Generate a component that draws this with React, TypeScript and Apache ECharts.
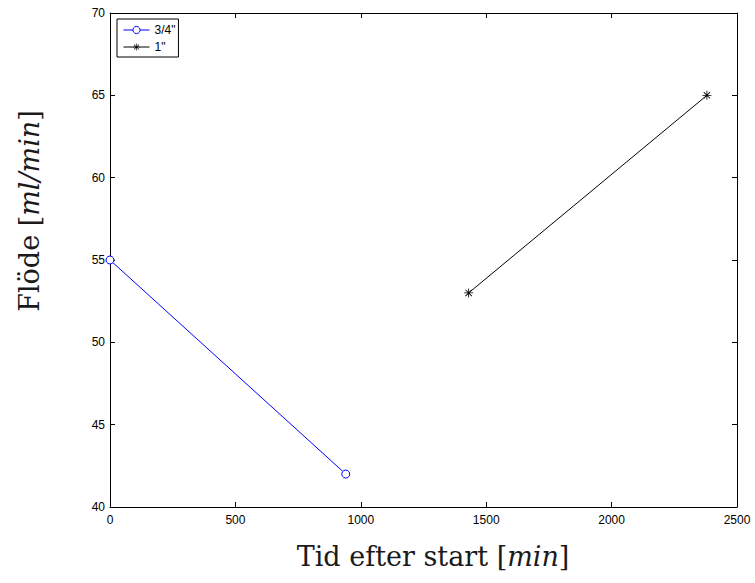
import React, { useEffect, useRef } from "react";
import * as echarts from "echarts";

const seriesNames = ['3/4"', '1"'];
const xSmall = [0, 940];
const ySmall = [55, 42];
const xLarge = [1430, 2380];
const yLarge = [53, 65];

const asterisk =
  "path://M-0.09,-1 L0.09,-1 L0.09,1 L-0.09,1 Z M-1,-0.09 L1,-0.09 L1,0.09 L-1,0.09 Z " +
  "M-0.77,-0.64 L-0.64,-0.77 L0.77,0.64 L0.64,0.77 Z M0.64,-0.77 L0.77,-0.64 L-0.64,0.77 L-0.77,0.64 Z";

export default function App() {
  const ref = useRef<HTMLDivElement>(null);
  useEffect(() => {
    if (!ref.current) return;
    const chart = echarts.init(ref.current, undefined, { renderer: "svg" });
    const sans = "'Liberation Sans', Arial, sans-serif";
    const serif = "'DejaVu Serif', 'Liberation Serif', serif";
    const axisCommon = {
      type: "value" as const,
      axisLine: { show: true, onZero: false, lineStyle: { color: "#000", width: 1 } },
      axisTick: { show: true, inside: true, length: 5, lineStyle: { color: "#000" } },
      splitLine: { show: false },
    };
    const rich = {
      n: { fontFamily: serif, fontSize: 27, fill: "#1a1a1a" },
      i: { fontFamily: serif, fontSize: 27, fontStyle: "italic", fill: "#1a1a1a" },
    };
    chart.setOption({
      animation: false,
      backgroundColor: "#fff",
      grid: { left: 110, right: 18, top: 13, bottom: 76, containLabel: false },
      legend: {
        left: 117,
        top: 19,
        orient: "vertical",
        data: seriesNames,
        borderColor: "#000",
        borderWidth: 1,
        borderRadius: 0,
        padding: [4, 3, 3, 6],
        itemGap: 3,
        itemWidth: 26,
        itemHeight: 9,
        backgroundColor: "#fff",
        lineStyle: { width: 1 },
        itemStyle: { borderWidth: 1 },
        textStyle: { fontFamily: sans, fontSize: 12, lineHeight: 14, color: "#000", padding: [0, 0, 0, 0] },
      },
      xAxis: [
        {
          ...axisCommon,
          min: 0,
          max: 2500,
          interval: 500,
          position: "bottom",
          axisLabel: {
            show: true,
            color: "#000",
            fontFamily: sans,
            fontSize: 12,
            margin: 7,
            formatter: (v: number) => String(v),
          },
        },
        {
          ...axisCommon,
          min: 0,
          max: 2500,
          interval: 500,
          position: "top",
          axisLabel: { show: false },
        },
      ],
      yAxis: [
        {
          ...axisCommon,
          min: 40,
          max: 70,
          interval: 5,
          position: "left",
          axisLabel: { show: true, color: "#000", fontFamily: sans, fontSize: 12, margin: 5 },
        },
        {
          ...axisCommon,
          min: 40,
          max: 70,
          interval: 5,
          position: "right",
          axisLabel: { show: false },
        },
      ],
      graphic: [
        {
          type: "text",
          x: 433,
          y: 556,
          style: {
            x: 0,
            y: 0,
            text: "{n|Tid efter start [}{i|min}{n|]}",
            align: "center",
            verticalAlign: "middle",
            rich,
          },
        },
        {
          type: "text",
          x: 29,
          y: 211,
          rotation: Math.PI / 2,
          style: {
            x: 0,
            y: 0,
            text: "{n|Flöde [}{i|ml/min}{n|]}",
            align: "center",
            verticalAlign: "middle",
            rich,
          },
        },
      ],
      series: [
        {
          name: seriesNames[0],
          type: "line",
          data: xSmall.map((x, i) => [x, ySmall[i]]),
          symbol: "circle",
          symbolSize: 8,
          showAllSymbol: true,
          lineStyle: { color: "#0000ff", width: 1 },
          itemStyle: { color: "#fff", borderColor: "#0000ff", borderWidth: 1 },
        },
        {
          name: seriesNames[1],
          type: "line",
          data: xLarge.map((x, i) => [x, yLarge[i]]),
          symbol: asterisk,
          symbolSize: 9,
          showAllSymbol: true,
          lineStyle: { color: "#000", width: 1 },
          itemStyle: { color: "#000", borderWidth: 0 },
        },
      ],
    });
    return () => chart.dispose();
  }, []);
  return <div ref={ref} style={{ width: 755, height: 583, position: "absolute", left: 0, top: 0 }} />;
}
